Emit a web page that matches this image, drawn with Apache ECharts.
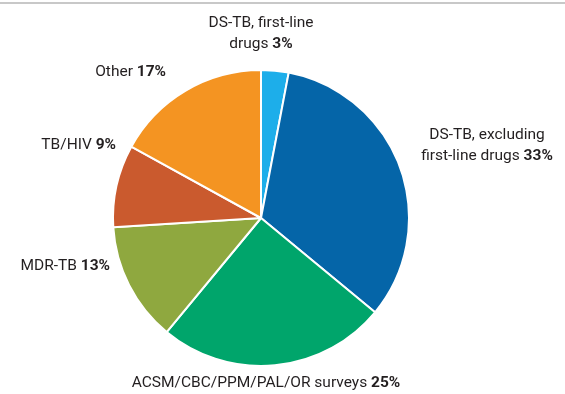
<!DOCTYPE html>
<html><head><meta charset="utf-8">
<script src="https://cdn.jsdelivr.net/npm/echarts@6/dist/echarts.min.js"></script>
<style>html,body{margin:0;padding:0;background:#fff}#c{width:565px;height:394px}</style>
</head><body><div id="c"></div>
<script>
const categories = ['DS-TB, first-line\ndrugs', 'DS-TB, excluding\nfirst-line drugs', 'ACSM/CBC/PPM/PAL/OR surveys', 'MDR-TB', 'TB/HIV', 'Other'];
const values = [3, 33, 25, 13, 9, 17];
const colors = ['#1DAEEA', '#0565A8', '#00A56B', '#8FA83F', '#CA5A2E', '#F49422'];
const labelPos = [
  {x: 261, y: 34, align: 'center'},
  {x: 487, y: 146, align: 'center'},
  {x: 266, y: 383, align: 'center'},
  {x: 110, y: 266, align: 'right'},
  {x: 116, y: 145, align: 'right'},
  {x: 166, y: 72, align: 'right'}
];
const chart = echarts.init(document.getElementById('c'));
const FONT = 'Roboto, "Open Sans", sans-serif';
chart.setOption({
  animation: false,
  graphic: [{type: 'rect', shape: {x: 0, y: 2, width: 565, height: 2}, style: {fill: '#c8c8c8'}}],
  series: [{
    type: 'pie',
    center: [261, 218],
    radius: 148,
    startAngle: 90,
    clockwise: true,
    data: categories.map((c, i) => ({name: c, value: values[i], itemStyle: {color: colors[i]}})),
    itemStyle: {borderColor: '#fff', borderWidth: 2},
    labelLine: {show: false},
    label: {
      show: true,
      position: 'outside',
      overflow: 'none',
      formatter: p => p.name + ' {b|' + p.value + '%}',
      color: '#231F20',
      fontFamily: FONT,
      fontSize: 15.5,
      lineHeight: 21,
      rich: {b: {fontWeight: 'bold', fontFamily: FONT, fontSize: 15.5, color: '#231F20', lineHeight: 21}}
    },
    labelLayout: p => {
      const l = labelPos[p.dataIndex];
      return {x: l.x, y: l.y, align: l.align, verticalAlign: 'middle'};
    }
  }]
});
</script></body></html>
